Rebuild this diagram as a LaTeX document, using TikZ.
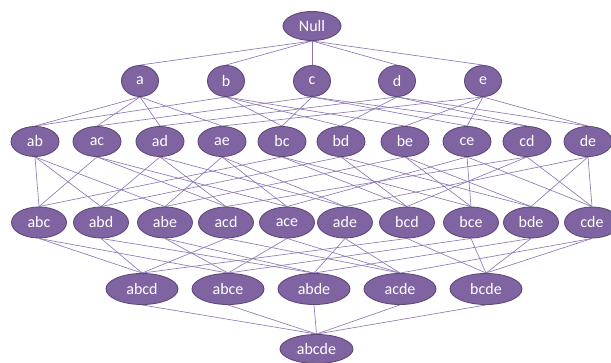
\documentclass[tikz,border=0pt]{standalone}
\usepackage{fontspec}
\setmainfont{Carlito}
\usetikzlibrary{shapes.geometric,backgrounds}
\definecolor{nodefill}{HTML}{8064A2}
\definecolor{nodeborder}{HTML}{5F497A}
\definecolor{edgecol}{HTML}{8E78B2}
\begin{document}
\begin{tikzpicture}[x=1pt,y=-1pt,
  itemnode/.style={ellipse,draw=nodeborder,line width=0.9pt,fill=nodefill,text=white,inner sep=0pt,
    font=\fontsize{16}{19}\selectfont},
  r0/.style={itemnode,minimum width=58pt,minimum height=29pt},
  r1/.style={itemnode,minimum width=37pt,minimum height=31pt},
  r2/.style={itemnode,minimum width=48pt,minimum height=30pt},
  r3/.style={itemnode,minimum width=55pt,minimum height=31pt},
  r4/.style={itemnode,minimum width=72pt,minimum height=31pt},
  r5/.style={itemnode,minimum width=73pt,minimum height=29pt},
  link/.style={draw=edgecol,line width=0.65pt}]
\useasboundingbox (0,0) rectangle (611,363);
% row 0
\node[r0] (null) at (312,26) {Null};
% row 1
\node[r1] (a) at (140,81) {a};
\node[r1] (b) at (226,81) {b};
\node[r1] (c) at (312,81) {c};
\node[r1] (d) at (397,81) {d};
\node[r1] (e) at (483,81) {e};
% row 2
\node[r2] (ab) at (35,141.5) {ab};
\node[r2] (ac) at (97,141.5) {ac};
\node[r2] (ad) at (160,141.5) {ad};
\node[r2] (ae) at (222,141.5) {ae};
\node[r2] (bc) at (282,141.5) {bc};
\node[r2] (bd) at (341,141.5) {bd};
\node[r2] (be) at (405,141.5) {be};
\node[r2] (ce) at (467,141.5) {ce};
\node[r2] (cd) at (527,141.5) {cd};
\node[r2] (de) at (588,141.5) {de};
% row 3
\node[r3] (abc) at (39,222.5) {abc};
\node[r3] (abd) at (101,222.5) {abd};
\node[r3] (abe) at (165,222.5) {abe};
\node[r3] (acd) at (226,222.5) {acd};
\node[r3] (ace) at (287,222.5) {ace};
\node[r3] (ade) at (345,222.5) {ade};
\node[r3] (bcd) at (407,222.5) {bcd};
\node[r3] (bce) at (471,222.5) {bce};
\node[r3] (bde) at (531,222.5) {bde};
\node[r3] (cde) at (592,222.5) {cde};
% row 4
\node[r4] (abcd) at (142,289) {abcd};
\node[r4] (abce) at (228,289) {abce};
\node[r4] (abde) at (314,289) {abde};
\node[r4] (acde) at (400,289) {acde};
\node[r4] (bcde) at (486,289) {bcde};
% row 5
\node[r5] (abcde) at (316.5,349) {abcde};
\begin{scope}[on background layer]
\foreach \u/\l in {null/a,null/b,null/c,null/d,null/e,
  a/ab,b/ab,a/ac,c/ac,a/ad,d/ad,a/ae,e/ae,b/bc,c/bc,b/bd,d/bd,b/be,e/be,c/ce,e/ce,c/cd,d/cd,d/de,e/de,
  ab/abc,ac/abc,bc/abc,ab/abd,ad/abd,bd/abd,ab/abe,ae/abe,be/abe,ac/acd,ad/acd,cd/acd,
  ac/ace,ae/ace,ce/ace,ad/ade,ae/ade,de/ade,bc/bcd,bd/bcd,cd/bcd,bc/bce,be/bce,ce/bce,
  bd/bde,be/bde,de/bde,cd/cde,ce/cde,de/cde,
  abc/abcd,abd/abcd,acd/abcd,bcd/abcd,abc/abce,abe/abce,ace/abce,bce/abce,
  abd/abde,abe/abde,ade/abde,bde/abde,acd/acde,ace/acde,ade/acde,cde/acde,
  bcd/bcde,bce/bcde,bde/bcde,cde/bcde,
  abcd/abcde,abce/abcde,abde/abcde,acde/abcde,bcde/abcde}
  \draw[link] (\u.south) -- (\l.north);
\end{scope}
\end{tikzpicture}
\end{document}
